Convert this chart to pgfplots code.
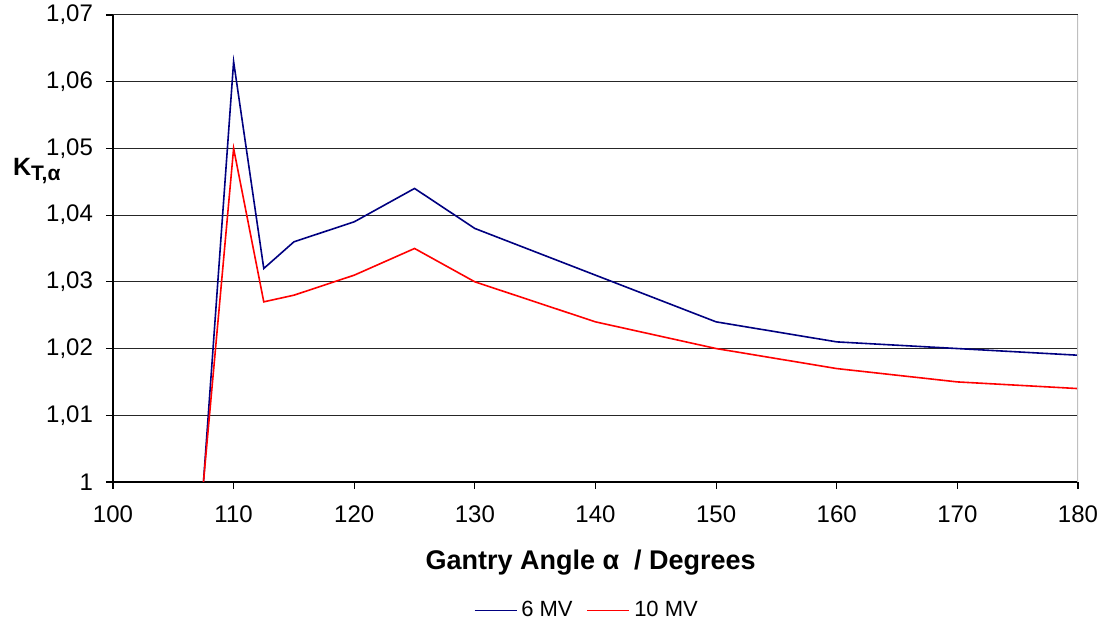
\documentclass[border=0pt]{standalone}
\usepackage{pgfplots}
\pgfplotsset{compat=1.18}
\usepackage{fontspec}
\setmainfont{Liberation Sans}
\definecolor{navyline}{RGB}{0,0,128}
\definecolor{redline}{RGB}{255,0,0}
\begin{document}
\begin{tikzpicture}
\begin{axis}[
  name=ax,
  scale only axis,
  width=482.5pt, height=233.5pt,
  xmin=100, xmax=180, ymin=1, ymax=1.07,
  xtick={100,110,...,180},
  ytick={1,1.01,...,1.07},
  axis x line*=bottom, axis y line*=left,
  axis line style={black, line width=0.6pt, -},
  tick align=outside,
  major tick length=3.5pt,
  tick style={black, line width=0.6pt},
  ymajorgrids,
  grid style={black!85, line width=0.5pt},
  /pgf/number format/assume math mode=true,
  yticklabel style={/pgf/number format/.cd, use comma, fixed, precision=2, /tikz/.cd, xshift=-3pt},
  xticklabel style={/pgf/number format/.cd, fixed, /tikz/.cd, yshift=-5pt},
  ticklabel style={font=\fontsize{12}{14}\selectfont},
  xlabel={\textbf{Gantry Angle α\ \ / Degrees}},
  xlabel style={font=\fontsize{13.5}{16}\selectfont, at={(axis description cs:0.495,-0.172)}, anchor=center},
  ylabel={\textbf{K\raisebox{-2.5pt}{\fontsize{10.5}{12}\selectfont T,α}}},
  ylabel style={rotate=-90, font=\fontsize{12.5}{14}\selectfont, at={(axis description cs:-0.079,0.665)}, anchor=center},
  legend columns=2,
  legend style={draw=none, fill=none, at={(axis description cs:0.492,-0.275)}, anchor=center,
    font=\fontsize{11}{13}\selectfont, /tikz/every even column/.append style={column sep=5pt},
    /tikz/every odd column/.append style={}},
  legend image code/.code={\draw[#1] (0pt,0pt) -- (21pt,0pt);},
  every axis plot/.append style={line width=0.8pt},
]
\addplot[navyline, mark=none] coordinates {
(107.5,1.000) (110,1.063) (112.5,1.032) (115,1.036) (120,1.039) (125,1.044)
(130,1.038) (140,1.031) (150,1.024) (160,1.021) (170,1.020) (180,1.019)};
\addlegendentry{6 MV}
\addplot[redline, mark=none] coordinates {
(107.5,1.000) (110,1.050) (112.5,1.027) (115,1.028) (120,1.031) (125,1.035)
(130,1.030) (140,1.024) (150,1.020) (160,1.017) (170,1.015) (180,1.014)};
\addlegendentry{10 MV}
\draw[black!25, line width=0.8pt] (rel axis cs:1,0) -- (rel axis cs:1,1);
\end{axis}
\pgfresetboundingbox
\path[use as bounding box] ([xshift=-56.5pt,yshift=-71.5pt]ax.south west) rectangle ([xshift=15pt,yshift=7.5pt]ax.north east);
\end{tikzpicture}
\end{document}
